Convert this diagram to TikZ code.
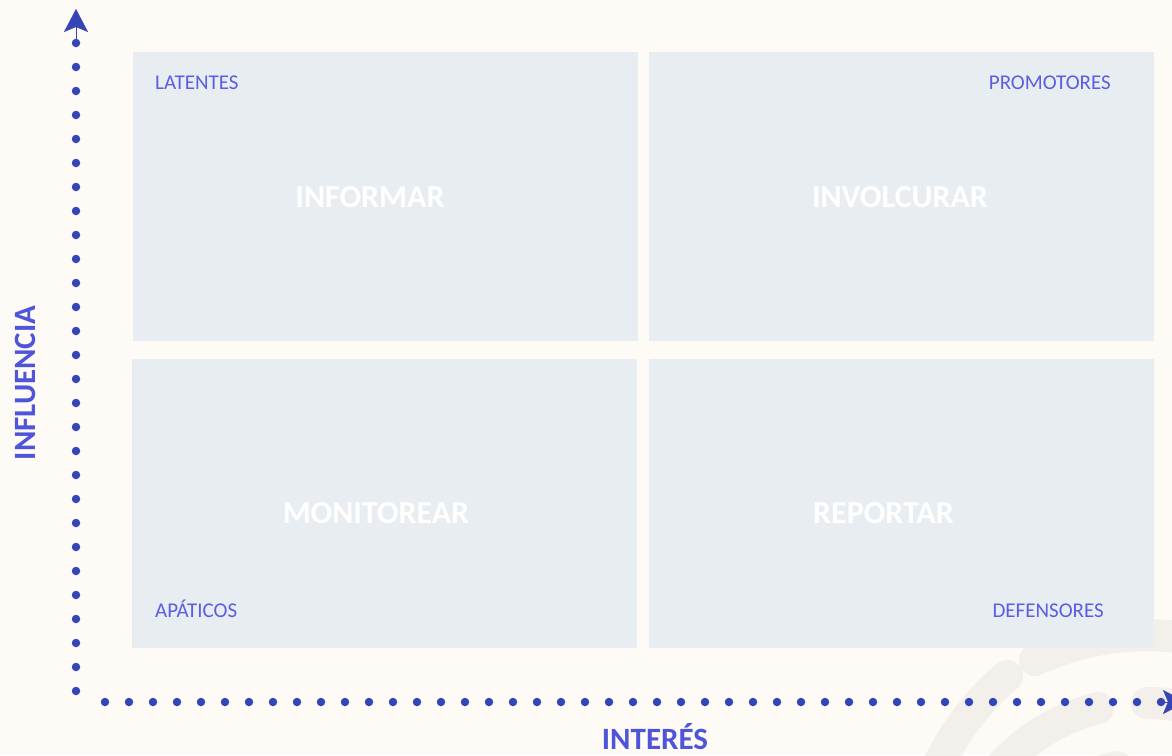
\documentclass[tikz,border=0pt]{standalone}
\usepackage{fontspec}
\setmainfont{Carlito}
\usetikzlibrary{arrows.meta}
\definecolor{bg}{HTML}{FEFBF6}
\definecolor{boxc}{HTML}{E8EDF1}
\definecolor{wm}{HTML}{F3F0EC}
\definecolor{dotc}{HTML}{3545B5}
\definecolor{lab}{HTML}{5A5EE4}
\definecolor{axl}{HTML}{4F55D9}
\begin{document}
\begin{tikzpicture}[x=1pt,y=-1pt,
 quad/.style={fill=boxc, draw=none, minimum width=505pt, minimum height=289pt, inner sep=0pt, anchor=north west},
 corner/.style={font=\fontsize{21}{21}\selectfont, text=lab, inner sep=0pt},
 action/.style={font=\fontsize{32}{32}\selectfont\bfseries, text=white, inner sep=0pt, anchor=base},
 axtitle/.style={font=\fontsize{31}{31}\selectfont\bfseries, text=axl, inner sep=0pt, anchor=base},
 axdots/.style={draw=dotc, line width=8.5pt, line cap=round, dash pattern=on 0pt off 24pt},
 axtip/.style={draw=dotc, line width=0.1pt, -{Stealth[length=23pt,width=24pt,inset=5pt]}},
 wmarc/.style={draw=wm, line width=32pt, line cap=round}]
\clip (0,0) rectangle (1172,755);
\fill[bg] (0,0) rectangle (1172,755);
% watermark arcs
\draw[wmarc] (1035,660) arc[start angle=115, end angle=55, radius=265pt];
\draw[wmarc] (1007,676) arc[start angle=130.3, end angle=200, radius=268pt];
\draw[wmarc] (1098,708) arc[start angle=104.3, end angle=200, radius=197pt];
\draw[wmarc] (1147,703) arc[start angle=90, end angle=30, radius=197pt];
\draw[wmarc] (1117,767) arc[start angle=102.7, end angle=200, radius=136pt];
% quadrants
\node[quad] (q1) at (133,52) {};
\node[quad] (q2) at (649,52) {};
\node[quad] (q3) at (132,359) {};
\node[quad] (q4) at (649,359) {};
% corner labels
\node[corner, anchor=base west] (l1) at (155,89) {LATENTES};
\node[corner, anchor=base east] (l2) at (1111,89) {PROMOTORES};
\node[corner, anchor=base west] (l3) at (155,617) {APÁTICOS};
\node[corner, anchor=base east] (l4) at (1104,617) {DEFENSORES};
% action labels
\node[action] (a1) at (370,207) {INFORMAR};
\node[action] (a2) at (900,207) {INVOLCURAR};
\node[action] (a3) at (376,523) {MONITOREAR};
\node[action] (a4) at (883.5,523) {REPORTAR};
% axes
\coordinate (yo) at (76,691);
\coordinate (yt) at (76,42.9);
\coordinate (yh) at (76,44);
\coordinate (ytip) at (76,9);
\coordinate (xo) at (105,702);
\coordinate (xt) at (1161.1,702);
\coordinate (xh) at (1160,702);
\coordinate (xtip) at (1186,702);
\draw[axdots] (yo) -- (yt);
\draw[axtip] (yh) -- (ytip);
\draw[axdots] (xo) -- (xt);
\draw[axtip] (xh) -- (xtip);
\node[axtitle, rotate=90] (yl) at (35,383) {INFLUENCIA};
\node[axtitle] (xl) at (655,749) {INTERÉS};
\end{tikzpicture}
\end{document}
